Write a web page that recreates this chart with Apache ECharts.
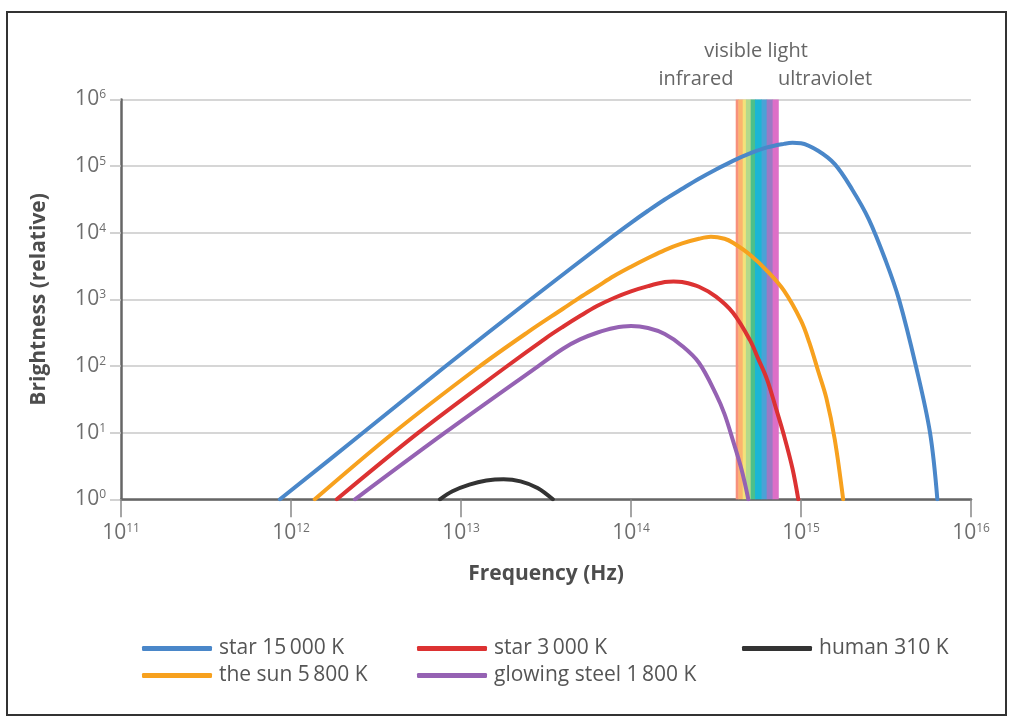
<!DOCTYPE html>
<html>
<head>
<meta charset="utf-8">
<script src="https://cdn.jsdelivr.net/npm/echarts@6/dist/echarts.min.js"></script>
<style>
  html, body { margin: 0; padding: 0; background: #fff; }
  #chart { width: 1015px; height: 720px; }
</style>
</head>
<body>
<div id="chart"></div>
<script>
var myChart = echarts.init(document.getElementById('chart'));

// [frequency Hz, brightness]
var star15000 = [[8.61e11, 1], [2.51e12, 8.9], [7.94e12, 95], [2.51e13, 955], [7.94e13, 9120], [1e14, 14100],
  [1.26e14, 21400], [1.58e14, 31600], [2.0e14, 45700], [2.51e14, 64600], [3.16e14, 89100], [3.98e14, 120000],
  [5.01e14, 155000], [6.31e14, 191000], [7.94e14, 216000], [8.91e14, 224000], [1e15, 221000], [1.26e15, 170000],
  [1.58e15, 107000], [2.0e15, 44700], [2.51e15, 15800], [3.16e15, 3720], [3.77e15, 1000],
  [4.74e15, 100], [5.74e15, 10], [6.34e15, 1]];
var sun5800 = [[1.38e12, 1], [3.98e12, 9.8], [1.26e13, 95], [2.51e13, 331], [3.98e13, 724], [5.01e13, 1070],
  [6.31e13, 1550], [7.94e13, 2240], [1e14, 3090], [1.26e14, 4170], [1.58e14, 5500], [2.0e14, 6920],
  [2.51e14, 8130], [2.95e14, 8710], [3.55e14, 8130], [3.98e14, 7080], [5.01e14, 4680], [6.31e14, 2690],
  [7.94e14, 1350], [1e15, 479], [1.12e15, 224], [1.26e15, 85], [1.41e15, 33], [1.58e15, 7.9], [1.77e15, 1]];
var star3000 = [[1.86e12, 1], [5.62e12, 10], [1.78e13, 91], [3.16e13, 263], [3.98e13, 389], [5.01e13, 562],
  [6.31e13, 794], [7.94e13, 1050], [1e14, 1320], [1.26e14, 1580], [1.58e14, 1820], [1.78e14, 1860],
  [2.0e14, 1820], [2.51e14, 1550], [3.16e14, 1100], [3.98e14, 631], [5.01e14, 245], [5.62e14, 126],
  [6.31e14, 63], [7.08e14, 24.5], [7.94e14, 9.1], [8.91e14, 2.9], [9.64e14, 1]];
var steel1800 = [[2.38e12, 1], [8.05e12, 10], [2.85e13, 100], [3.98e13, 182], [5.01e13, 251], [6.31e13, 316],
  [7.94e13, 372], [1e14, 398], [1.26e14, 372], [1.58e14, 302], [2.0e14, 200], [2.51e14, 112],
  [3.16e14, 38], [3.55e14, 19], [3.98e14, 7.6], [4.47e14, 2.8], [4.9e14, 1]];
var human310 = [[7.52e12, 1], [8.91e12, 1.32], [1.12e13, 1.66], [1.41e13, 1.91], [1.78e13, 2.0], [2.24e13, 1.86],
  [2.82e13, 1.48], [3.47e13, 1]];

var seriesNames = ['star 15\u2009000 K', 'the sun 5\u2009800 K', 'star 3\u2009000 K', 'glowing steel 1\u2009800 K', 'human 310 K'];
var seriesColors = ['#4a87c9', '#f7a11e', '#dc3232', '#9562b3', '#333333'];
var seriesData = [star15000, sun5800, star3000, steel1800, human310];

// visible light band stripes (frequency edges)
var bandEdges = [4.13e14, 4.28e14, 4.54e14, 4.74e14, 5.06e14, 5.36e14, 5.86e14, 6.28e14, 6.81e14, 7.35e14];
var bandColors = ['#f7917c', '#fbb46e', '#f3e27a', '#b5d98a', '#4cc08a', '#1bb6d4', '#4aa2d6', '#9b7ac4', '#dd6fc7'];

var FONT = '"Open Sans", sans-serif';

function powLabel(v) {
    var e = Math.round(Math.log10(v));
    return '{b|10}{s|' + e + '}';
}
var labelRich = {
    b: { fontSize: 21, color: '#6e6e6e', fontFamily: FONT },
    s: { fontSize: 12, color: '#6e6e6e', fontFamily: FONT, padding: [0, 0, 9, 0] }
};

var series = [];

// the band goes first and lowest so the curves sit on top of it
series.push({
    name: 'visible',
    type: 'custom',
    z: 1,
    silent: true,
    data: bandColors.map(function(c, i) {
        return [bandEdges[i], bandEdges[i + 1], i];
    }),
    encode: { x: [0, 1] },
    renderItem: function(params, api) {
        var p0 = api.coord([api.value(0), 1e6]);
        var p1 = api.coord([api.value(1), 1]);
        return {
            type: 'rect',
            shape: { x: p0[0], y: p0[1], width: p1[0] - p0[0] + 0.5, height: p1[1] - p0[1] },
            style: { fill: bandColors[api.value(2)] }
        };
    }
});

seriesData.forEach(function(d, i) {
    series.push({
        name: seriesNames[i],
        type: 'line',
        data: d,
        smooth: 0.35,
        symbol: 'none',
        z: 5,
        lineStyle: { color: seriesColors[i], width: 4, cap: 'round' },
        itemStyle: { color: seriesColors[i] }
    });
});

function legendCol(left, names) {
    return {
        orient: 'vertical',
        left: left,
        top: 630,
        itemWidth: 70,
        itemHeight: 5,
        itemGap: 0,
        icon: 'roundRect',
        data: names,
        selectedMode: false,
        textStyle: { fontSize: 21, color: '#555', fontFamily: FONT, lineHeight: 27, padding: [0, 0, 0, 2] }
    };
}

myChart.setOption({
    animation: false,
    grid: { left: 121, right: 44, top: 99.5, bottom: 220.7 },
    legend: [
        legendCol(137, [seriesNames[0], seriesNames[1]]),
        legendCol(412, [seriesNames[2], seriesNames[3]]),
        legendCol(737, [seriesNames[4]])
    ],
    xAxis: {
        type: 'log',
        logBase: 10,
        min: 1e11,
        max: 1e16,
        splitNumber: 5,
        name: 'Frequency (Hz)',
        nameLocation: 'middle',
        nameGap: 64,
        nameTextStyle: { fontSize: 21, fontWeight: 'bold', color: '#4d4d4d', fontFamily: FONT },
        axisLine: { lineStyle: { color: '#666', width: 2.5 } },
        axisTick: { show: true, length: 18, lineStyle: { color: '#888', width: 1.5 } },
        splitLine: { show: false },
        minorTick: { show: false },
        axisLabel: { margin: 23, formatter: powLabel, rich: labelRich }
    },
    yAxis: {
        type: 'log',
        logBase: 10,
        min: 1,
        max: 1e6,
        splitNumber: 6,
        name: 'Brightness (relative)',
        nameLocation: 'middle',
        nameGap: 71,
        nameTextStyle: { fontSize: 21, fontWeight: 'bold', color: '#4d4d4d', fontFamily: FONT },
        axisLine: { show: true, lineStyle: { color: '#666', width: 2.5 } },
        axisTick: { show: true, length: 11, lineStyle: { color: '#c4c4c4', width: 1.5 } },
        splitLine: { show: true, lineStyle: { color: '#c8c8c8', width: 1.5 } },
        axisLabel: { margin: 15, formatter: powLabel, rich: labelRich }
    },
    graphic: [
        { type: 'rect', shape: { x: 7, y: 12, width: 999, height: 703 }, style: { fill: 'none', stroke: '#333', lineWidth: 2 }, silent: true },
        { type: 'text', x: 756, y: 51, style: { text: 'visible light', fontSize: 20, fontFamily: FONT, fill: '#666', textAlign: 'center', textVerticalAlign: 'middle' } },
        { type: 'text', x: 696, y: 79, style: { text: 'infrared', fontSize: 20, fontFamily: FONT, fill: '#666', textAlign: 'center', textVerticalAlign: 'middle' } },
        { type: 'text', x: 825, y: 79, style: { text: 'ultraviolet', fontSize: 20, fontFamily: FONT, fill: '#666', textAlign: 'center', textVerticalAlign: 'middle' } }
    ],
    series: series
});
</script>
</body>
</html>
